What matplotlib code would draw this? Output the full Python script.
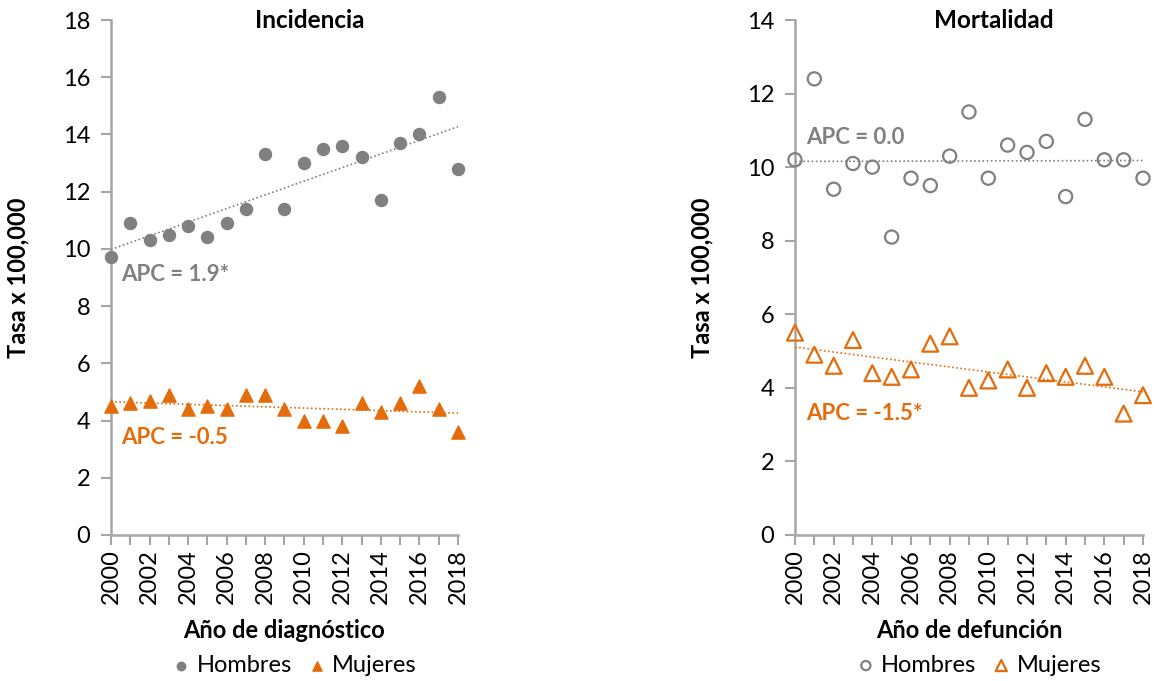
import numpy as np
import matplotlib
matplotlib.use("agg")
import matplotlib.pyplot as plt
from matplotlib.ticker import MultipleLocator

plt.rcParams['font.family'] = ['Lato', 'DejaVu Sans']

years = list(range(2000, 2019))

# incidencia
inc_hombres = [9.7, 10.9, 10.3, 10.5, 10.8, 10.4, 10.9, 11.4, 13.3, 11.4,
               13.0, 13.5, 13.6, 13.2, 11.7, 13.7, 14.0, 15.3, 12.8]
inc_mujeres = [4.5, 4.6, 4.7, 4.9, 4.4, 4.5, 4.4, 4.9, 4.9, 4.4,
               4.0, 4.0, 3.8, 4.6, 4.3, 4.6, 5.2, 4.4, 3.6]

# mortalidad
mor_hombres = [10.2, 12.4, 9.4, 10.1, 10.0, 8.1, 9.7, 9.5, 10.3, 11.5,
               9.7, 10.6, 10.4, 10.7, 9.2, 11.3, 10.2, 10.2, 9.7]
mor_mujeres = [5.5, 4.9, 4.6, 5.3, 4.4, 4.3, 4.5, 5.2, 5.4, 4.0,
               4.2, 4.5, 4.0, 4.4, 4.3, 4.6, 4.3, 3.3, 3.8]

apc_labels = {'inc': ('APC = 1.9*', 'APC = -0.5'),
              'mor': ('APC = 0.0', 'APC = -1.5*')}

GRAY = '#808080'
ORANGE = '#E46C0A'
SPINE = '#A6A6A6'
FS = 17


def trend(ax, y, color):
    x = np.array(years)
    m, b = np.polyfit(x, y, 1)
    ax.plot(x, m * x + b, ls=(0, (1, 1.5)), color=color, lw=1.2, zorder=1)


def style_axes(ax, ymax, xlabel, title):
    ax.set_xlim(2000, 2018)
    ax.set_ylim(0, ymax)
    ax.yaxis.set_major_locator(MultipleLocator(2))
    ax.xaxis.set_major_locator(MultipleLocator(2))
    ax.xaxis.set_minor_locator(MultipleLocator(1))
    for s in ['top', 'right']:
        ax.spines[s].set_visible(False)
    for s in ['left', 'bottom']:
        ax.spines[s].set_color(SPINE)
        ax.spines[s].set_linewidth(1.8)
        ax.spines[s].set_zorder(0)
    ax.tick_params(axis='y', length=7, width=1.5, color=SPINE, labelsize=FS, pad=8)
    ax.tick_params(axis='x', which='both', length=7, width=1.5, color=SPINE,
                   labelsize=FS, labelrotation=90, pad=3)
    ax.tick_params(axis='x', which='minor', labelbottom=False)
    ax.set_ylabel('Tasa x 100,000', fontsize=FS, fontweight='bold')
    ax.yaxis.set_label_coords(-0.235, 0.5)
    ax.set_xlabel(xlabel, fontsize=FS, fontweight='bold', va='top')
    ax.xaxis.set_label_coords(0.5, -0.163)
    ax.text(0.572, 1.0, title, transform=ax.transAxes, fontsize=FS + 0.5,
            fontweight='bold', ha='center', va='center')


fig = plt.figure(figsize=(11.55, 6.81), dpi=100)
ax1 = fig.add_axes([0.0961, 0.2144, 0.3004, 0.7562])
ax2 = fig.add_axes([0.6883, 0.2144, 0.3013, 0.7562])

# incidencia
ax1.scatter(years, inc_hombres, s=75, color=GRAY, marker='o', zorder=3,
            label='Hombres', clip_on=False)
ax1.scatter(years, inc_mujeres, s=90, color=ORANGE, marker='^', zorder=3,
            label='Mujeres', clip_on=False)
trend(ax1, inc_hombres, GRAY)
trend(ax1, inc_mujeres, ORANGE)
ax1.text(2000.5, 9.1, apc_labels['inc'][0], color=GRAY, fontsize=16,
         fontweight='bold', va='center')
ax1.text(2000.5, 3.4, apc_labels['inc'][1], color=ORANGE, fontsize=16,
         fontweight='bold', va='center')
style_axes(ax1, 18, 'Año de diagnóstico', 'Incidencia')

# mortalidad
ax2.scatter(years, mor_hombres, s=90, facecolors='none', edgecolors=GRAY,
            linewidths=1.6, marker='o', zorder=3, label='Hombres', clip_on=False)
ax2.scatter(years, mor_mujeres, s=130, facecolors='none', edgecolors=ORANGE,
            linewidths=1.6, marker='^', zorder=3, label='Mujeres', clip_on=False)
trend(ax2, mor_hombres, GRAY)
trend(ax2, mor_mujeres, ORANGE)
ax2.text(2000.6, 10.8, apc_labels['mor'][0], color=GRAY, fontsize=16,
         fontweight='bold', va='center')
ax2.text(2000.6, 3.3, apc_labels['mor'][1], color=ORANGE, fontsize=16,
         fontweight='bold', va='center')
style_axes(ax2, 14, 'Año de defunción', 'Mortalidad')

for ax in (ax1, ax2):
    ax.legend(loc='center', bbox_to_anchor=(0.53, -0.253), ncol=2,
              frameon=False, fontsize=FS, handlelength=0.7, handletextpad=0.3,
              columnspacing=0.7, markerscale=0.7)

fig.savefig('out.png', dpi=100)
